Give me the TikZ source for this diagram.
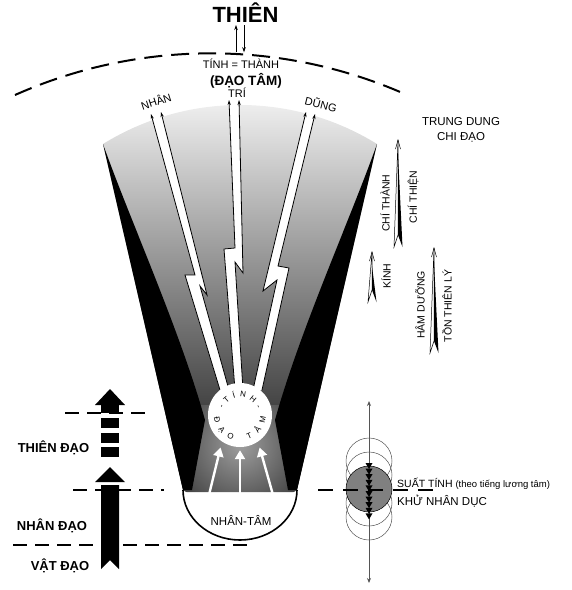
\documentclass[tikz,border=0pt]{standalone}
\usepackage{fontspec}
\setmainfont{Liberation Sans}
\usepackage{xcolor}
\usepackage{tikz}
\usetikzlibrary{arrows.meta,decorations.text}
\definecolor{diskgray}{RGB}{128,128,128}
\definecolor{axisgray}{RGB}{85,85,85}
\newcommand{\ringfont}{\fontsize{8}{9}\selectfont}

\begin{document}
\begin{tikzpicture}[x=1pt,y=-1pt,
    lbl/.style={font=\fontsize{11}{13}\selectfont, inner sep=0pt},
    boldlbl/.style={font=\bfseries\fontsize{13}{15}\selectfont, inner sep=0pt},
    sidelbl/.style={font=\fontsize{10.5}{12}\selectfont, inner sep=0pt, rotate=90},
    dashline/.style={line width=1.6pt, dash pattern=on 14pt off 8pt},
    boltedge/.style={line width=0.8pt, -{Stealth[length=5pt,width=3.2pt]}},
    rayarrow/.style={white, line width=2.4pt, -{Triangle[length=9pt,width=10pt]}},
    tiparrow/.style={line width=0.7pt, -{Stealth[length=5pt,width=3.5pt]}}]
    \useasboundingbox (0,0) rectangle (572,590);

    % heaven and the dashed vault
    \node[font=\bfseries\fontsize{22}{24}\selectfont, inner sep=0pt, outer sep=3pt, anchor=base] (thien) at (245.5,22) {THIÊN};
    \draw[line width=2pt, dash pattern=on 18pt off 9pt] (15,95) arc[start angle=246, end angle=293.1, radius=482];
    \node[lbl, anchor=base] (tinh) at (241,68) {TÍNH = THÀNH};
    \node[boldlbl, font=\bfseries\fontsize{13.5}{15}\selectfont, anchor=base] (daotam) at (246,85) {(ĐẠO TÂM)};
    \node[lbl, anchor=base] (tri) at (237,97) {TRÍ};
    \node[lbl, rotate=18] (nhan) at (156,101) {NHÂN};
    \node[lbl, rotate=-14] (dung) at (321,104) {DŨNG};
    \coordinate (upx) at (236,0);
    \coordinate (dnx) at (244,0);
    \draw[tiparrow, shorten <=6pt] (tinh.north -| upx) -- (thien.south -| upx);
    \draw[tiparrow, shorten >=6pt] (thien.south -| dnx) -- (tinh.north -| dnx);

    % fan
    \shade[top color=black!4, middle color=black!45, bottom color=black!92]
        (183,490) -- (103,144) arc[start angle=238.2, end angle=301.8, radius=260] -- (297,490) -- cycle;

    % glow under the core
    \begin{scope}
        \clip (200,405) -- (280,405) -- (297,492) -- (183,492) -- cycle;
        \shade[inner color=black!38, outer color=black] (240,445) circle (125);
    \end{scope}

    % dark wedges
    \fill (103,144) -- (183,490) -- (192,490) -- (205,420) .. controls (180,330) and (130,220) .. (103,144);
    \fill (377,144) -- (297,490) -- (288,490) -- (275,420) .. controls (300,330) and (350,220) .. (377,144);

    % bowl
    \fill[white] (183,490) arc[start angle=126.87, end angle=53.13, radius=95]
        -- (297,490) arc[start angle=0, end angle=180, x radius=57, y radius=50] -- cycle;
    \draw[line width=1.6pt] (297,490) arc[start angle=0, end angle=180, x radius=57, y radius=50];

    % bolts
    \fill[white] (151,114) -- (161,112) -- (207,295) -- (200,286) -- (229,390) -- (220,390) -- (185,275) -- (195,275) -- cycle;
    \draw[boltedge] (229,390) -- (200,286) -- (207,295) -- (161,112);
    \draw[boltedge] (220,390) -- (185,275) -- (195,275) -- (151,114);
    \fill[white] (229,100) -- (239,100) -- (243,273) -- (235,262) -- (243,390) -- (235,390) -- (224,249) -- (235,248) -- cycle;
    \draw[boltedge] (243,390) -- (235,262) -- (243,273) -- (239,100);
    \draw[boltedge] (235,390) -- (224,249) -- (235,248) -- (229,100);
    \fill[white] (306,112) -- (315,114) -- (278,266) -- (289,268) -- (262,390) -- (253,390) -- (277,280) -- (263,291) -- cycle;
    \draw[boltedge] (262,390) -- (289,268) -- (278,266) -- (315,114);
    \draw[boltedge] (253,390) -- (277,280) -- (263,291) -- (306,112);

    % core
    \node[circle, fill=white, minimum size=64pt, inner sep=0pt] (core) at (240,415) {};
    \path[decorate, decoration={text along path, text={|\ringfont|-TÍNH-}, text align=fit to path}]
        (core.center) ++(200:18) arc[start angle=200, end angle=340, radius=18];
    \path[decorate, decoration={text along path, text={|\ringfont|ĐẠO TÂM}, text align=fit to path}]
        (core.center) ++(175:26) arc[start angle=175, end angle=5, radius=26];

    % rays from the bowl
    \coordinate (r1) at (207,503);
    \coordinate (r2) at (240,508);
    \coordinate (r3) at (275,502);
    \draw[rayarrow, shorten >=6pt] (r1) -- (core.236);
    \draw[rayarrow, shorten >=3pt] (r2) -- (core.south);
    \draw[rayarrow, shorten >=6pt] (r3) -- (core.304);
    \node[lbl, font=\fontsize{11.5}{13}\selectfont, anchor=base] (nhantam) at (241,525) {NHÂN-TÂM};

    % levels on the left
    \draw[dashline] (65,413) -- (146,413);
    \draw[dashline] (73,490) -- (164,490);
    \draw[dashline] (13,545) -- (254,545);
    \fill (95,405) -- (110,389) -- (125,405) -- cycle;
    \fill (101,405) rectangle (119,413);
    \foreach \yb in {418,433,447}
        \fill (101,\yb) rectangle (119,\yb+9.5);
    \fill (95,482) -- (110,467) -- (125,482) -- cycle;
    \fill (101,485) -- (119,485) -- (119,569) -- (110,560) -- (101,569) -- cycle;
    \node[boldlbl, anchor=base] (thiendao) at (53.5,452) {THIÊN ĐẠO};
    \node[boldlbl, anchor=base] (nhandao) at (52,530) {NHÂN ĐẠO};
    \node[boldlbl, anchor=base] (vatdao) at (60,570) {VẬT ĐẠO};

    % middle way and the needles
    \node[lbl, font=\fontsize{11.5}{13}\selectfont, anchor=base] (trung) at (461,125) {TRUNG DUNG};
    \node[lbl, font=\fontsize{11.5}{13}\selectfont, anchor=base] (chidao) at (461,140) {CHI ĐẠO};
    \foreach \nx/\ntop/\nbot in {398/140/247, 372/252/302, 434/248/353} {
        \filldraw[fill=white, line width=0.5pt] (\nx,\ntop) -- (\nx-4,\nbot) -- (\nx,\nbot-12) -- cycle;
        \fill (\nx,\ntop+14) -- (\nx+4.5,\nbot) -- (\nx,\nbot-12) -- cycle;
        \draw[line width=0.5pt] (\nx-2.5,\ntop+9) -- (\nx,\ntop) -- (\nx+2.5,\ntop+9);
    }
    \node[sidelbl] (chithanh) at (385,203) {CHÍ THÀNH};
    \node[sidelbl] (chithien) at (413,197) {CHÍ THIỆN};
    \node[sidelbl] (kinh) at (386,276) {KÍNH};
    \node[sidelbl] (hamduong) at (420,305) {HÂM DƯỠNG};
    \node[sidelbl] (tonthienly) at (447,306) {TỒN THIÊN LÝ};

    % rings on the right
    \foreach \cy in {461,475,503,517}
        \draw[axisgray, line width=0.5pt] (369,\cy) circle (23);
    \filldraw[fill=diskgray, draw=black, line width=0.5pt] (369,489) circle (23);
    \draw[axisgray, line width=1pt, {Stealth[length=5pt,width=4pt]}-{Stealth[length=5pt,width=4pt]}] (369,401) -- (369,583);
    \foreach \k in {0,...,9}
        \fill (365.5,463+5.6*\k) -- (372.5,463+5.6*\k) -- (369,469+5.6*\k) -- cycle;
    \draw[dashline, dash pattern=on 15pt off 10pt] (318,490) -- (433,490);
    \node[lbl, font=\fontsize{10.5}{12}\selectfont, anchor=base west] (suat) at (397,487) {SUẤT TÍNH {\fontsize{9.5}{11}\selectfont (theo tiếng lương tâm)}};
    \node[lbl, font=\fontsize{11.5}{13}\selectfont, anchor=base west] (khu) at (397,505) {KHỬ NHÂN DỤC};
\end{tikzpicture}
\end{document}
